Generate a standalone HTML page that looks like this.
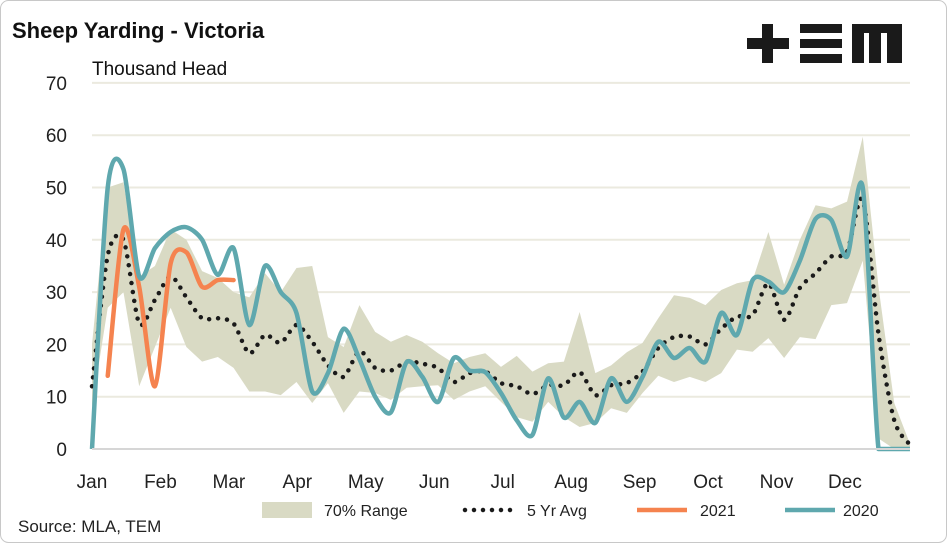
<!DOCTYPE html>
<html><head><meta charset="utf-8"><style>
body{margin:0;background:#fff;}
svg{display:block;font-family:"Liberation Sans",sans-serif;}
</style></head><body>
<svg id="chart" width="947" height="543" viewBox="0 0 947 543">
<rect x="0.5" y="0.5" width="946" height="542" rx="8" fill="#fff" stroke="#c8c8c8"/>
<text x="12" y="38" font-size="22" font-weight="bold" fill="#111">Sheep Yarding - Victoria</text>
<text x="92" y="75" font-size="19" fill="#111">Thousand Head</text>
<g fill="#1a1a1a">
<rect x="747" y="38" width="42" height="11"/><rect x="762" y="24" width="11" height="39"/>
<rect x="800" y="24" width="42" height="9"/><rect x="800" y="39" width="42" height="9"/><rect x="800" y="54" width="42" height="9"/>
<rect x="852" y="24" width="50" height="39"/><rect x="864" y="33" width="5" height="30" fill="#fff"/><rect x="881" y="33" width="6" height="30" fill="#fff"/>
</g>
<g id="grid"></g><g id="band"></g><g id="series"></g><g id="axes"></g>
<g>
<rect x="262" y="502" width="50" height="16" fill="#d9dac4"/>
<text x="324" y="516" font-size="16" fill="#222">70% Range</text>
<line x1="465" y1="510" x2="512" y2="510" stroke="#1a1a1a" stroke-width="4.5" stroke-linecap="round" stroke-dasharray="0 9"/>
<text x="527" y="516" font-size="16" fill="#222">5 Yr Avg</text>
<line x1="637" y1="510" x2="687" y2="510" stroke="#f5834f" stroke-width="4.5"/>
<text x="700" y="516" font-size="16" fill="#222">2021</text>
<line x1="785" y1="510" x2="835" y2="510" stroke="#5fa8ae" stroke-width="4.5"/>
<text x="843" y="516" font-size="16" fill="#222">2020</text>
</g>
<text x="18" y="532" font-size="17" fill="#222">Source: MLA, TEM</text>
</svg>
<script>
const yTicks=[0,10,20,30,40,50,60,70];
const monthLabels=["Jan","Feb","Mar","Apr","May","Jun","Jul","Aug","Sep","Oct","Nov","Dec"];
const rangeUpper=[20,50,51,33,35,42,40,34,32.7,30,29,33.6,30,34.6,35,21.4,19.5,27.5,22.4,20.5,21.8,20.5,18.3,16.4,17.6,18.3,15.7,17.8,14.8,16.4,16.7,26.2,14.5,16,18.5,20.3,25,29.4,28.9,27.5,30.4,31.7,32.3,41.5,31.4,40,46.6,46,47.3,59.7,31,8.8,1];
const rangeLower=[8,27,30,12,19.5,27,19.5,16.7,17.6,15.5,11,11,10.3,12.8,8.8,12.6,6.9,11,10.7,9.4,11.7,12,12.2,9.4,11,12,9,6.1,5.2,9,6.1,4.2,5,7.8,6.9,10.7,14,12.8,13.8,12.8,14.5,19,18.6,21.2,17.4,21.4,21,27.5,27.9,36,2,0,0];
const avg5yr=[12,37,40,24,28.5,33,29,25,25,24,18.3,21.8,20.3,23.7,20.5,16,13.8,18.7,15.5,15,16.7,16.3,15.5,12.8,14.5,14.8,12.6,12,10.5,12.2,12.2,14.7,10.3,12.2,12.6,14.8,19.3,21.4,21.5,20,23,25.3,25.6,31.7,24.7,30.8,33.6,36.8,37.7,47.6,22,5.5,0.8];
const y2020=[0,50,53.5,33,38.4,41.5,42.4,40,33.3,38.4,23.7,35,30,26,11,14.5,23,17.2,10,7,16.6,13.8,9,17.4,15,14.7,10.7,5.5,2.7,13.5,6,9,5,13.5,9,13.8,20.5,17.4,19.3,16.7,26,21.8,32.3,32,30,36,44,43.8,36.8,50,0,0,0];
const y2021=[null,14,42,31,12,35.5,37.6,31,32.3,32.3];
const X0=92,XW=15.73,Y0=449,YS=5.23;
const xs=i=>X0+i*XW, ys=v=>Y0-v*YS;
const NS="http://www.w3.org/2000/svg";
function mk(tag,attrs,parent){const e=document.createElementNS(NS,tag);for(const k in attrs)e.setAttribute(k,attrs[k]);parent.appendChild(e);return e;}
const grid=document.getElementById('grid'),axes=document.getElementById('axes'),band=document.getElementById('band'),ser=document.getElementById('series');
yTicks.forEach(t=>{
 if(t>0){const l=mk('line',{x1:92,x2:910,y1:ys(t),y2:ys(t),stroke:'#ebeadf','stroke-width':2},grid);
 
 }
 const tx=mk('text',{x:67,y:ys(t)+7,'font-size':19,'text-anchor':'end',fill:'#222'},axes);tx.textContent=t;
 
 
});
const ax=mk('line',{x1:92,x2:910,y1:Y0,y2:Y0,stroke:'#d6d6d6','stroke-width':2},axes);


monthLabels.forEach((m,i)=>{
 const tx=mk('text',{x:X0+i*68.45,y:488,'font-size':19,'text-anchor':'middle',fill:'#222'},axes);tx.textContent=m;
 
 
});
let bp='';rangeUpper.forEach((v,i)=>{bp+=(i?'L':'M')+xs(i)+','+ys(v);});
for(let i=rangeLower.length-1;i>=0;i--)bp+='L'+xs(i)+','+ys(rangeLower[i]);
const b=mk('path',{d:bp+'Z',fill:'#d9dac4'},band);


function smooth(arr){const p=[];arr.forEach((v,i)=>{if(v!==null)p.push([xs(i),ys(v)]);});
 let d='M'+p[0][0]+','+p[0][1];
 const cl=y=>Math.min(Y0,y);
 for(let i=0;i<p.length-1;i++){const a=p[i-1]||p[i],b0=p[i],c=p[i+1],e=p[i+2]||c;
  const t=0.14;
  let y1=b0[1]+(c[1]-a[1])*t, y2=c[1]-(e[1]-b0[1])*t;
  if(b0[1]===Y0||c[1]===Y0){y1=cl(y1);y2=cl(y2);}
  d+='C'+(b0[0]+(c[0]-a[0])*t)+','+y1+' '+(c[0]-(e[0]-b0[0])*t)+','+y2+' '+c[0]+','+c[1];}
 return d;}
const av=mk('path',{d:smooth(avg5yr),fill:'none',stroke:'#1a1a1a','stroke-width':4.5,'stroke-linecap':'round','stroke-dasharray':'0 9'},ser);


const l21=mk('path',{d:smooth(y2021),fill:'none',stroke:'#f5834f','stroke-width':4.5,'stroke-linecap':'round'},ser);


const l20=mk('path',{d:smooth(y2020),fill:'none',stroke:'#5fa8ae','stroke-width':4.5,'stroke-linejoin':'round'},ser);


</script>
</body></html>
